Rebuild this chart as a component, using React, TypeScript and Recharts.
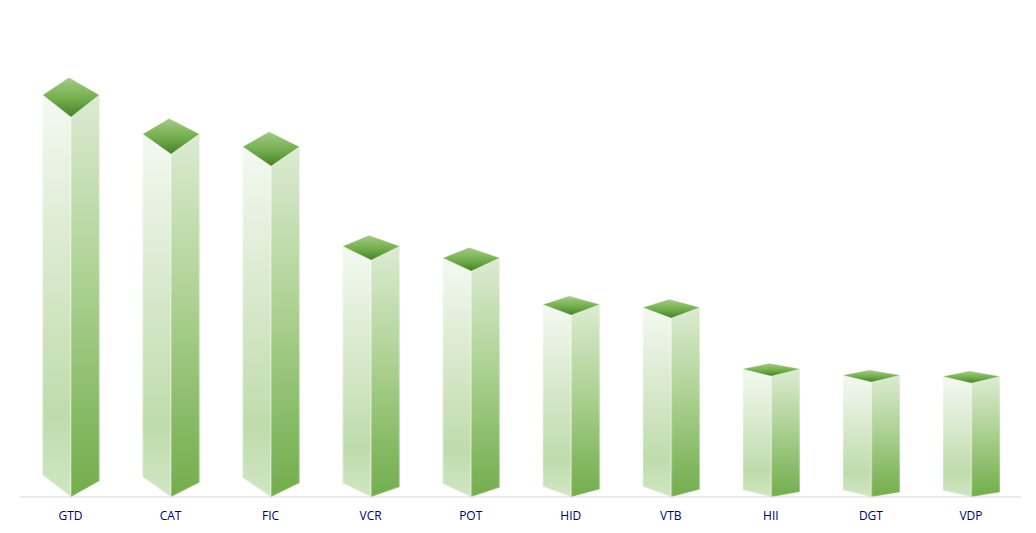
import { BarChart, Bar, XAxis, YAxis } from 'recharts';

const tickers = ['GTD', 'CAT', 'FIC', 'VCR', 'POT', 'HID', 'VTB', 'HII', 'DGT', 'VDP'];
const values = [380, 343, 331, 237, 226, 182, 179, 121, 115, 114];

const data = tickers.map((name, i) => ({ name, value: values[i] }));

// column with a perspective: the deeper the top, the taller the column
const Column3D = (props: any) => {
  const { x, y, width, height } = props;
  const cx = x + width / 2;
  const base = y + height;
  const topFront = height * 0.058;
  const topBack = height * 0.045;
  const bottomLeft = height * 0.058;
  const bottomRight = height * 0.042;
  const edge = y - topFront;
  return (
    <g>
      <polygon
        points={`${x},${edge} ${cx},${y} ${cx},${base} ${x},${base - bottomLeft}`}
        fill="url(#faceLeft)"
        stroke="#ffffff"
        strokeOpacity={0.25}
        strokeWidth={2}
      />
      <polygon
        points={`${cx},${y} ${x + width},${edge} ${x + width},${base - bottomRight} ${cx},${base}`}
        fill="url(#faceRight)"
        stroke="#ffffff"
        strokeOpacity={0.2}
        strokeWidth={2}
      />
      <polygon
        points={`${x + 0.5},${edge} ${cx - 2},${edge - topBack} ${x + width - 0.5},${edge} ${cx},${y}`}
        fill="url(#faceTop)"
        stroke="#a9d08e"
        strokeOpacity={0.6}
        strokeWidth={0.6}
      />
    </g>
  );
};

export default function App() {
  return (
    <div style={{ position: 'absolute', left: 0, top: 0 }}>
      <BarChart
        width={1036}
        height={533}
        data={data}
        margin={{ top: 0, right: 15, bottom: 0, left: 20 }}
      >
        <defs>
          <linearGradient id="faceLeft" x1="0" y1="0" x2="0" y2="1">
            <stop offset="0" stopColor="#f4f9f1" />
            <stop offset="0.45" stopColor="#d6e8ca" />
            <stop offset="0.8" stopColor="#bfdcac" />
            <stop offset="1" stopColor="#d0e6c3" />
          </linearGradient>
          <linearGradient id="faceRight" x1="0" y1="0" x2="0" y2="1">
            <stop offset="0" stopColor="#dcebd2" />
            <stop offset="0.45" stopColor="#aed294" />
            <stop offset="0.8" stopColor="#86ba65" />
            <stop offset="1" stopColor="#74ad4c" />
          </linearGradient>
          <linearGradient id="faceTop" x1="0" y1="0" x2="0" y2="1">
            <stop offset="0" stopColor="#a2cb85" />
            <stop offset="0.55" stopColor="#72ad4c" />
            <stop offset="1" stopColor="#47802a" />
          </linearGradient>
        </defs>
        <XAxis
          dataKey="name"
          height={36}
          padding={{ left: 0.5, right: 0 }}
          axisLine={{ stroke: '#d9d9d9' }}
          tickLine={false}
          tickMargin={8}
          tick={{ fontSize: 12, fill: '#00006e', fontFamily: 'Open Sans' }}
        />
        <YAxis hide domain={[0, 497]} />
        <Bar dataKey="value" barSize={57} shape={Column3D} isAnimationActive={false} />
      </BarChart>
    </div>
  );
}
